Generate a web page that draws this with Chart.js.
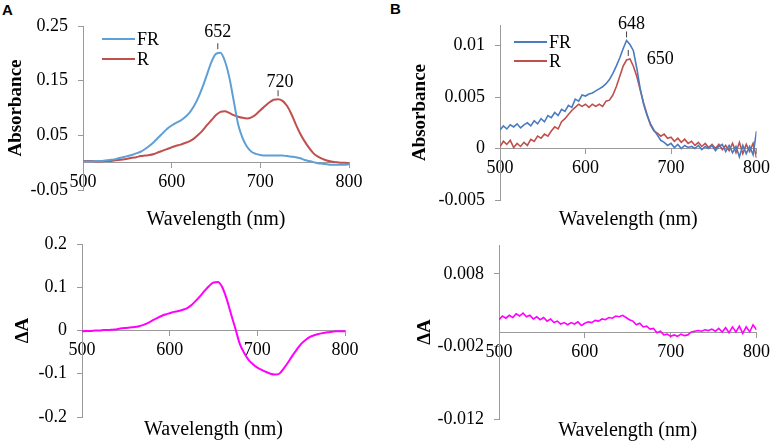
<!DOCTYPE html>
<html>
<head>
<meta charset="utf-8">
<script src="https://cdn.jsdelivr.net/npm/chart.js@4.4.0/dist/chart.umd.min.js"></script>
<style>
  body { margin: 0; background: #fff; width: 774px; height: 443px; position: relative; overflow: hidden; }
  canvas { position: absolute; }
  .letter { position: absolute; font: bold 15px "Liberation Sans", Arial, sans-serif; line-height: 15px; color: #000; }
</style>
</head>
<body>
<div class="letter" style="left:2px;top:2px">A</div>
<div class="letter" style="left:390px;top:1px">B</div>
<canvas id="absA" style="left:0;top:0;width:390px;height:232px" width="390" height="232"></canvas>
<canvas id="absB" style="left:390px;top:0;width:384px;height:232px" width="384" height="232"></canvas>
<canvas id="diffA" style="left:0;top:222px;width:390px;height:220px" width="390" height="220"></canvas>
<canvas id="diffB" style="left:390px;top:222px;width:384px;height:221px" width="384" height="221"></canvas>
<script>
// ---- data ----
const wavelengthTicks = [500, 600, 700, 800];

// panel A, 5 nm steps
const wavelengthsA = [500, 505, 510, 515, 520, 525, 530, 535, 540, 545, 550, 555, 560, 565, 570, 575, 580, 585, 590, 595,
  600, 605, 610, 615, 620, 625, 630, 635, 640, 645, 650, 655, 660, 665, 670, 675, 680, 685, 690, 695,
  700, 705, 710, 715, 720, 725, 730, 735, 740, 745, 750, 755, 760, 765, 770, 775, 780, 785, 790, 795, 800];
const frA = [0.002, 0.002, 0.002, 0.003, 0.003, 0.004, 0.005, 0.006, 0.008, 0.010, 0.012, 0.014, 0.017, 0.020, 0.025, 0.031, 0.038, 0.046, 0.054, 0.062,
  0.068, 0.073, 0.077, 0.083, 0.091, 0.103, 0.119, 0.139, 0.162, 0.185, 0.199, 0.201, 0.186, 0.156, 0.113, 0.070, 0.045, 0.029, 0.020, 0.016,
  0.014, 0.013, 0.013, 0.013, 0.013, 0.013, 0.012, 0.011, 0.010, 0.008, 0.005, 0.003, 0.001, -0.001, -0.002, -0.003, -0.004, -0.004, -0.004, -0.004, -0.003];
const rA = [0.003, 0.003, 0.003, 0.002, 0.002, 0.003, 0.003, 0.004, 0.005, 0.006, 0.007, 0.009, 0.010, 0.012, 0.013, 0.014, 0.016, 0.019, 0.022, 0.025,
  0.028, 0.031, 0.033, 0.036, 0.039, 0.044, 0.051, 0.059, 0.069, 0.078, 0.087, 0.093, 0.094, 0.091, 0.087, 0.084, 0.082, 0.081, 0.083, 0.088,
  0.096, 0.103, 0.110, 0.115, 0.116, 0.113, 0.104, 0.089, 0.070, 0.053, 0.039, 0.027, 0.017, 0.011, 0.007, 0.004, 0.002, 0.001, 0.000, 0.000, -0.001];
const diffA = [-0.002, -0.001, -0.001, 0.000, 0.000, 0.001, 0.001, 0.002, 0.003, 0.005, 0.006, 0.007, 0.008, 0.010, 0.013, 0.017, 0.023, 0.028, 0.033, 0.037,
  0.040, 0.043, 0.045, 0.048, 0.052, 0.059, 0.069, 0.080, 0.092, 0.103, 0.111, 0.112, 0.100, 0.073, 0.038, 0.004, -0.031, -0.052, -0.068, -0.078,
  -0.086, -0.091, -0.096, -0.100, -0.102, -0.100, -0.088, -0.074, -0.058, -0.044, -0.031, -0.022, -0.015, -0.011, -0.008, -0.006, -0.004, -0.003, -0.002, -0.002, -0.002];

// panel B, 4 nm steps (noisy traces)
const wavelengthsB = [500, 504, 508, 512, 516, 520, 524, 528, 532, 536, 540, 544, 548, 552, 556, 560, 564, 568, 572, 576,
  580, 584, 588, 592, 596, 600, 604, 608, 612, 616, 620, 624, 628, 632, 636, 640, 644, 648, 652, 656,
  660, 664, 668, 672, 676, 680, 684, 688, 692, 696, 700, 704, 708, 712, 716, 720, 724, 728, 732, 736,
  740, 744, 748, 752, 756, 760, 764, 768, 772, 776, 780, 784, 788, 792, 796, 800];
const frB = [0.0018, 0.0022, 0.0019, 0.0023, 0.0021, 0.0024, 0.0020, 0.0023, 0.0025, 0.0022, 0.0027, 0.0024, 0.0029, 0.0026, 0.0032, 0.0030, 0.0035, 0.0032, 0.0038, 0.0036,
  0.0042, 0.0040, 0.0048, 0.0046, 0.0052, 0.0051, 0.0053, 0.0054, 0.0056, 0.0058, 0.0060, 0.0063, 0.0067, 0.0073, 0.0080, 0.0088, 0.0097, 0.0105, 0.0101, 0.0095,
  0.0078, 0.0058, 0.0043, 0.0032, 0.0024, 0.0018, 0.0013, 0.0008, 0.0006, 0.0003, 0.0005, 0.0001, 0.0004, 0.0000, 0.0003, 0.0001, 0.0002, 0.0000, 0.0003, -0.0001,
  0.0002, 0.0000, 0.0003, -0.0002, 0.0002, 0.0004, -0.0003, 0.0003, -0.0004, 0.0002, -0.0008, 0.0003, -0.0005, 0.0002, -0.0006, 0.0017];
const rB = [0.0002, 0.0007, 0.0004, 0.0008, 0.0001, 0.0005, 0.0002, 0.0006, 0.0003, 0.0009, 0.0007, 0.0012, 0.0010, 0.0014, 0.0012, 0.0017, 0.0021, 0.0019, 0.0026, 0.0029,
  0.0033, 0.0037, 0.0040, 0.0043, 0.0041, 0.0043, 0.0040, 0.0043, 0.0041, 0.0043, 0.0041, 0.0046, 0.0047, 0.0052, 0.0060, 0.0070, 0.0080, 0.0086, 0.0087, 0.0080,
  0.0070, 0.0057, 0.0044, 0.0033, 0.0023, 0.0017, 0.0015, 0.0012, 0.0014, 0.0010, 0.0011, 0.0007, 0.0010, 0.0006, 0.0009, 0.0005, 0.0007, 0.0003, 0.0006, 0.0002,
  0.0005, 0.0001, 0.0004, 0.0000, 0.0004, -0.0001, 0.0003, -0.0002, 0.0005, -0.0004, 0.0006, -0.0005, 0.0004, -0.0003, 0.0005, -0.0009];
const diffB = [0.0017, 0.0022, 0.0019, 0.0023, 0.0020, 0.0025, 0.0022, 0.0026, 0.0021, 0.0023, 0.0018, 0.0021, 0.0017, 0.0020, 0.0015, 0.0018, 0.0013, 0.0015, 0.0011, 0.0013,
  0.0010, 0.0013, 0.0011, 0.0014, 0.0009, 0.0012, 0.0014, 0.0013, 0.0016, 0.0015, 0.0018, 0.0017, 0.0020, 0.0019, 0.0022, 0.0021, 0.0023, 0.0020, 0.0017, 0.0015,
  0.0010, 0.0012, 0.0007, 0.0008, 0.0004, 0.0005, -0.0001, 0.0001, -0.0004, -0.0003, -0.0006, -0.0004, -0.0006, -0.0003, -0.0005, -0.0004, 0.0000, 0.0001, 0.0002, 0.0001,
  0.0003, 0.0002, 0.0004, 0.0001, 0.0005, 0.0000, 0.0006, -0.0001, 0.0007, 0.0000, 0.0008, -0.0002, 0.0007, 0.0000, 0.0010, 0.0003];

// peak labels
const peakWavelengthsA = [652, 720];
const peakValuesA = [0.202, 0.116];
const peakWavelengthsB = [648, 650];
const peakValuesB = [0.0105, 0.0087];

// y ticks per panel
const absTicksA = [-0.05, 0.05, 0.15, 0.25];
const absTicksB = [-0.005, 0, 0.005, 0.01];
const diffTicksA = [-0.2, -0.1, 0, 0.1, 0.2];
const diffTicksB = [-0.012, -0.002, 0.008];

// ---- styling helpers ----
const serif = '"Liberation Serif", "Times New Roman", serif';
const axisGrey = '#9a9a9a';

function points(xs, ys) {
  return xs.map((x, i) => ({x: x, y: ys[i]}));
}

function insideLegend(dx, dy, gap) {
  return {
    id: 'insideLegend',
    afterDatasetsDraw(chart) {
      const ctx = chart.ctx;
      const area = chart.chartArea;
      ctx.save();
      ctx.font = '18px ' + serif;
      ctx.textBaseline = 'middle';
      chart.data.datasets.forEach((ds, i) => {
        const x = area.left + dx;
        const y = area.top + dy + i * gap;
        ctx.strokeStyle = ds.borderColor;
        ctx.lineWidth = 2;
        ctx.beginPath();
        ctx.moveTo(x, y);
        ctx.lineTo(x + 33, y);
        ctx.stroke();
        ctx.fillStyle = '#000';
        ctx.fillText(ds.label, x + 35, y + 1);
      });
      ctx.restore();
    }
  };
}

function peakMarks(wls, vals, offsets) {
  return {
    id: 'peakMarks',
    afterDatasetsDraw(chart) {
      const ctx = chart.ctx;
      const xs = chart.scales.x, ys = chart.scales.y;
      ctx.save();
      ctx.font = '18px ' + serif;
      ctx.textAlign = 'center';
      ctx.textBaseline = 'middle';
      wls.forEach((wl, i) => {
        const px = xs.getPixelForValue(wl);
        const py = ys.getPixelForValue(vals[i]);
        ctx.strokeStyle = '#444';
        ctx.lineWidth = 1;
        ctx.beginPath();
        ctx.moveTo(px, py - 9);
        ctx.lineTo(px, py - 3);
        ctx.stroke();
        ctx.fillStyle = '#000';
        ctx.fillText(String(wl), px + offsets[i][0], py + offsets[i][1]);
      });
      ctx.restore();
    }
  };
}

function xAxis() {
  return {
    type: 'linear',
    min: 500,
    max: 800,
    position: {y: 0},
    afterBuildTicks: s => { s.ticks = wavelengthTicks.map(v => ({value: v})); },
    grid: {drawOnChartArea: false, drawTicks: true, tickLength: 5, color: axisGrey},
    border: {color: axisGrey, width: 1},
    ticks: {font: {family: serif, size: 18}, color: '#000', padding: 4, maxRotation: 0, autoSkip: false}
  };
}

function yAxis(min, max, tickList, title, width, titlePad) {
  return {
    type: 'linear',
    min: min,
    max: max,
    afterBuildTicks: s => { s.ticks = tickList.map(v => ({value: v})); },
    afterFit: s => { s.width = width; },
    grid: {drawOnChartArea: false, drawTicks: true, tickLength: 5, color: axisGrey},
    border: {color: axisGrey, width: 1},
    ticks: {font: {family: serif, size: 18}, color: '#000', padding: 10, callback: v => String(v)},
    title: {display: true, text: title, color: '#000', font: {family: serif, size: 19, weight: 'bold'}, padding: {top: titlePad, bottom: 0}}
  };
}

function makeChart(id, datasets, opts) {
  return new Chart(document.getElementById(id), {
    type: 'line',
    data: {datasets: datasets},
    options: {
      responsive: false,
      animation: false,
      events: [],
      layout: {padding: opts.padding},
      elements: {point: {radius: 0}},
      scales: {
        x: xAxis(),
        y: yAxis(opts.yMin, opts.yMax, opts.yTicks, opts.yTitle, opts.yWidth, opts.yTitlePad)
      },
      plugins: {
        legend: {display: false},
        tooltip: {enabled: false},
        title: {
          display: true,
          text: 'Wavelength (nm)',
          position: 'bottom',
          fullSize: false,
          color: '#000',
          font: {family: serif, size: 20, weight: 'normal'},
          padding: {top: opts.xTitlePad, bottom: 0}
        }
      }
    },
    plugins: opts.extra || []
  });
}

// ---- panel A, absorbance ----
makeChart('absA', [
  {label: 'FR', data: points(wavelengthsA, frA), borderColor: '#5E9FD6', borderWidth: 2, cubicInterpolationMode: 'monotone'},
  {label: 'R', data: points(wavelengthsA, rA), borderColor: '#C0504D', borderWidth: 2, cubicInterpolationMode: 'monotone'}
], {
  padding: {top: 26, right: 41, bottom: 0, left: 0},
  yMin: -0.05, yMax: 0.25, yTicks: absTicksA, yTitle: 'Absorbance', yWidth: 83, yTitlePad: 4.6,
  xTitlePad: 18,
  extra: [insideLegend(19, 13, 20), peakMarks(peakWavelengthsA, peakValuesA, [[0, -20], [2, -17]])]
});

// ---- panel B, absorbance ----
makeChart('absB', [
  {label: 'FR', data: points(wavelengthsB, frB), borderColor: '#4A7CC0', borderWidth: 1.6},
  {label: 'R', data: points(wavelengthsB, rB), borderColor: '#C0504D', borderWidth: 1.6}
], {
  padding: {top: 25, right: 16, bottom: 0, left: 0},
  yMin: -0.005, yMax: 0.012, yTicks: absTicksB, yTitle: 'Absorbance', yWidth: 110, yTitlePad: 18.6,
  xTitlePad: 8,
  extra: [insideLegend(14, 17, 19), peakMarks(peakWavelengthsB, peakValuesB, [[5, -16], [32, 0]])]
});

// ---- panel A, difference ----
makeChart('diffA', [
  {label: 'ΔA', data: points(wavelengthsA, diffA), borderColor: '#FF00FF', borderWidth: 2, cubicInterpolationMode: 'monotone'}
], {
  padding: {top: 22, right: 45, bottom: 0, left: 0},
  yMin: -0.2, yMax: 0.2, yTicks: diffTicksA, yTitle: 'ΔA', yWidth: 82, yTitlePad: 11.6,
  xTitlePad: 1
});

// ---- panel B, difference ----
makeChart('diffB', [
  {label: 'ΔA', data: points(wavelengthsB, diffB), borderColor: '#FF00FF', borderWidth: 1.6}
], {
  padding: {top: 23, right: 15, bottom: 0, left: 0},
  yMin: -0.012, yMax: 0.012, yTicks: diffTicksB, yTitle: 'ΔA', yWidth: 109, yTitlePad: 23.6,
  xTitlePad: 0
});
</script>
</body>
</html>
